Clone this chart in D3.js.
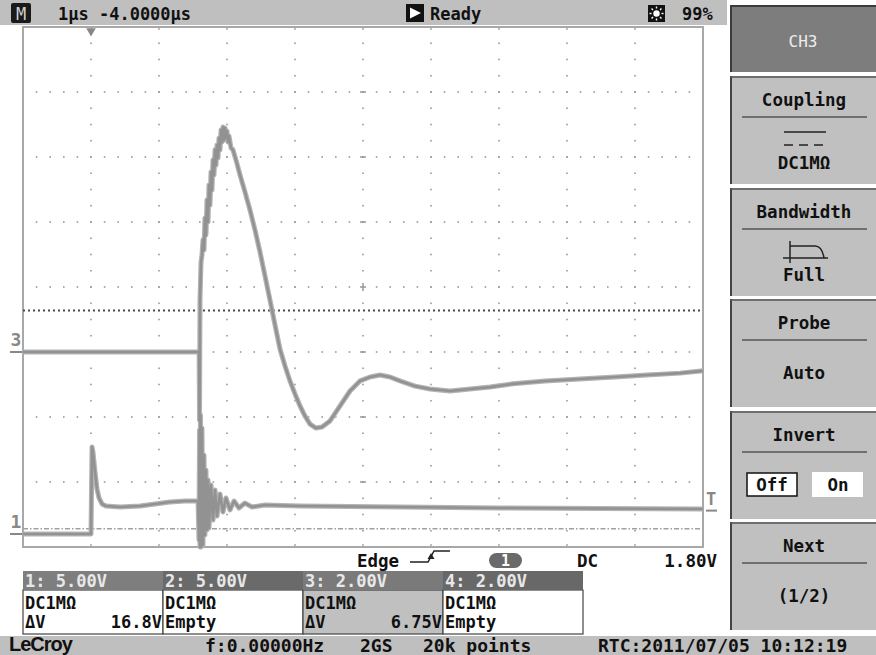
<!DOCTYPE html>
<html>
<head>
<meta charset="utf-8">
<script src="https://cdn.jsdelivr.net/npm/d3@7"></script>
<style>
body { margin: 0; background: #fff; }
svg { display: block; }
text { font-family: "DejaVu Sans Mono", monospace; fill: #111; font-weight: bold; }
</style>
</head>
<body>
<script>
// ---- values ----
// time in us (1 us/div, trigger at t = 0), volts per channel
const ch3Trace = [
  [-1, 0], [1.59, 0], [1.596, -2.1], [1.603, 1.6], [1.618, 2.77], [1.632, 2.98], [1.647, 3.45],
  [1.662, 3.14], [1.676, 4.12], [1.691, 3.6], [1.706, 4.68], [1.721, 4.0], [1.735, 5.14],
  [1.75, 4.52], [1.765, 5.54], [1.779, 4.98], [1.794, 5.91], [1.809, 5.45], [1.824, 6.22],
  [1.838, 5.75], [1.853, 6.37], [1.868, 5.97], [1.882, 6.58], [1.897, 6.22], [1.912, 6.83],
  [1.926, 6.46], [1.941, 6.92], [1.956, 6.52], [1.971, 6.89], [1.985, 6.58], [2.0, 6.8],
  [2.015, 6.46], [2.029, 6.65], [2.059, 6.28], [2.088, 6.22], [2.132, 5.91], [2.191, 5.45],
  [2.265, 4.92], [2.338, 4.37], [2.412, 3.75], [2.485, 3.08], [2.559, 2.34], [2.632, 1.6],
  [2.706, 0.83], [2.779, 0.09], [2.853, -0.43], [2.926, -0.89], [3.0, -1.29], [3.074, -1.66],
  [3.147, -1.97], [3.221, -2.22], [3.309, -2.34], [3.397, -2.31], [3.515, -2.12], [3.662, -1.66],
  [3.809, -1.2], [3.956, -0.89], [4.103, -0.77], [4.25, -0.71], [4.397, -0.77], [4.544, -0.89],
  [4.765, -1.05], [4.985, -1.14], [5.279, -1.2], [5.574, -1.14], [5.868, -1.08], [6.206, -0.98],
  [6.676, -0.89], [7.191, -0.83], [7.706, -0.77], [8.176, -0.71], [8.662, -0.65], [9.0, -0.58]
]

const ch1Trace = [
  [-1, 0], [0, 0], [0.015, 6.69], [0.029, 6.31], [0.059, 4.77], [0.088, 3.46], [0.118, 2.77],
  [0.162, 2.31], [0.221, 2.15], [0.426, 2.08], [0.721, 2.15], [0.941, 2.31], [1.162, 2.46],
  [1.382, 2.54], [1.574, 2.54], [1.588, -0.46], [1.596, 8.0], [1.603, -1.0], [1.61, 9.15],
  [1.618, -1.0], [1.632, 8.15], [1.647, -0.85], [1.662, 6.08], [1.676, -0.08], [1.691, 4.92],
  [1.706, 0.31], [1.721, 4.15], [1.735, 0.46], [1.765, 3.77], [1.794, 1.08], [1.824, 3.38],
  [1.853, 1.38], [1.897, 3.08], [1.941, 1.69], [1.985, 2.77], [2.044, 1.85], [2.103, 2.54],
  [2.176, 2.0], [2.265, 2.38], [2.368, 2.08], [2.559, 2.23], [3.074, 2.15], [4.544, 2.08],
  [6.015, 2.0], [7.485, 1.96], [9.0, 1.92]
]

const timeDivs = [0, 1, 2, 3, 4, 5, 6, 7, 8]      // interior vertical grid lines (us)
const voltDivs = [-3, -2, -1, 0, 1, 2, 3]         // interior horizontal grid lines (div)
const triggerLevel = 1.8                           // V on CH1
const cursorLevels = [17.2, 0.4]                   // V on CH1, dV = 16.8 V

const topTimebase = "1\u00b5s -4.0000\u00b5s"
const topStatus = "Ready"
const topBright = "99%"

const menuTitles = ["Coupling", "Bandwidth", "Probe", "Invert", "Next"]
const menuValues = ["DC1M\u03a9", "Full", "Auto", "", "(1/2)"]

const chanHeaders = ["1: 5.00V", "2: 5.00V", "3: 2.00V", "4: 2.00V"]
const chanCoupling = ["DC1M\u03a9", "DC1M\u03a9", "DC1M\u03a9", "DC1M\u03a9"]
const chanMeasure = [["\u0394V", "16.8V"], ["Empty", ""], ["\u0394V", "6.75V"], ["Empty", ""]]

const trigText = ["Edge", "DC", "1.80V"]
const statusText = ["f:0.00000Hz", "2GS", "20k points", "RTC:2011/07/05 10:12:19"]

// ---- layout ----
const width = 876, height = 655
const svg = d3.select("body").append("svg").attr("width", width).attr("height", height)

const x = d3.scaleLinear().domain([-1, 9]).range([23, 703])
const yDiv = d3.scaleLinear().domain([-4, 4]).range([547, 27])
const y3 = d3.scaleLinear().domain([-6, 10]).range([547, 27])   // 2 V/div, gnd 1 div below centre
const y1 = d3.scaleLinear().domain([-1, 39]).range([547, 27])   // 5 V/div

// top status bar
svg.append("rect").attr("x", 0).attr("y", 0).attr("width", 727).attr("height", 25).attr("fill", "#bfbfbf")
svg.append("rect").attr("x", 11).attr("y", 3).attr("width", 20).attr("height", 20).attr("rx", 2).attr("fill", "#1a1a1a")
svg.append("text").attr("x", 21).attr("y", 20).attr("text-anchor", "middle").attr("font-size", 17)
  .style("fill", "#cfcfcf").style("font-weight", "normal").text("M")
svg.append("text").attr("x", 58).attr("y", 20).attr("font-size", 17).text(topTimebase)
svg.append("rect").attr("x", 406).attr("y", 4).attr("width", 18).attr("height", 18).attr("fill", "#111")
svg.append("path").attr("d", "M410,7.5 L410,18.5 L421,13 Z").attr("fill", "#fff")
svg.append("text").attr("x", 430).attr("y", 20).attr("font-size", 17).text(topStatus)
// brightness icon
svg.append("rect").attr("x", 648).attr("y", 5).attr("width", 17).attr("height", 17).attr("fill", "#111")
svg.append("circle").attr("cx", 656.5).attr("cy", 13.5).attr("r", 3.2).attr("fill", "#fff")
d3.range(8).forEach(function (k) {
  const a = k * Math.PI / 4
  svg.append("line")
    .attr("x1", 656.5 + Math.cos(a) * 5).attr("y1", 13.5 + Math.sin(a) * 5)
    .attr("x2", 656.5 + Math.cos(a) * 7).attr("y2", 13.5 + Math.sin(a) * 7)
    .attr("stroke", "#fff").attr("stroke-width", 1.4)
})
svg.append("text").attr("x", 682).attr("y", 20).attr("font-size", 17).text(topBright)

// right soft-key panel
svg.append("rect").attr("x", 730).attr("y", 5).attr("width", 146).attr("height", 67).attr("fill", "#7d7d7d")
svg.append("line").attr("x1", 731).attr("x2", 731).attr("y1", 5).attr("y2", 72).attr("stroke", "#3c3c3c").attr("stroke-width", 2)
svg.append("line").attr("x1", 730).attr("x2", 876).attr("y1", 6).attr("y2", 6).attr("stroke", "#3c3c3c").attr("stroke-width", 2)
svg.append("text").attr("x", 803).attr("y", 47).attr("text-anchor", "middle").attr("font-size", 16)
  .style("fill", "#eeeeee").style("font-weight", "normal").text("CH3")

const menuTop = [76, 188, 299, 411, 522]
menuTitles.forEach(function (t, i) {
  const top = menuTop[i]
  const g = svg.append("g")
  g.append("rect").attr("x", 730).attr("y", top).attr("width", 146).attr("height", 108).attr("fill", "#c0c0c0")
  g.append("line").attr("x1", 731).attr("x2", 731).attr("y1", top).attr("y2", top + 108).attr("stroke", "#444").attr("stroke-width", 2)
  g.append("line").attr("x1", 730).attr("x2", 876).attr("y1", top + 1).attr("y2", top + 1).attr("stroke", "#555").attr("stroke-width", 1.5)
  g.append("text").attr("x", 804).attr("y", top + 30).attr("text-anchor", "middle").attr("font-size", 17.5).text(t)
  g.append("line").attr("x1", 742).attr("x2", 867).attr("y1", top + 41).attr("y2", top + 41).attr("stroke", "#555").attr("stroke-width", 1.5)
  const vy = (i < 2) ? top + 93 : top + 80
  if (menuValues[i]) {
    g.append("text").attr("x", 804).attr("y", vy).attr("text-anchor", "middle").attr("font-size", 17.5).text(menuValues[i])
  }
})
// coupling symbol
svg.append("line").attr("x1", 784).attr("x2", 826).attr("y1", 132).attr("y2", 132).attr("stroke", "#222").attr("stroke-width", 1.5)
svg.append("line").attr("x1", 784).attr("x2", 826).attr("y1", 145).attr("y2", 145).attr("stroke", "#222").attr("stroke-width", 1.5)
  .attr("stroke-dasharray", "9,6")
// bandwidth symbol
svg.append("path").attr("d", "M790,241 V263 M783,258 H828 M790,246 H815 Q822,246 824,258")
  .attr("fill", "none").attr("stroke", "#222").attr("stroke-width", 1.5)
// invert off/on
svg.append("rect").attr("x", 747).attr("y", 473).attr("width", 50).attr("height", 23).attr("fill", "#fff").attr("stroke", "#111").attr("stroke-width", 1.5)
svg.append("rect").attr("x", 812).attr("y", 472).attr("width", 51).attr("height", 25).attr("fill", "#fff")
svg.append("text").attr("x", 772).attr("y", 491).attr("text-anchor", "middle").attr("font-size", 17.5).text("Off")
svg.append("text").attr("x", 838).attr("y", 491).attr("text-anchor", "middle").attr("font-size", 17.5).text("On")

// grid
const grid = svg.append("g")
const quarter = d3.range(-4, 4.001, 0.25).slice(1, -1)
const fifth = d3.range(-1, 9.001, 0.2).slice(1, -1)
grid.selectAll("rect.vd").data(d3.cross(timeDivs, quarter)).join("rect")
  .attr("x", d => x(d[0]) - 0.8).attr("y", d => yDiv(d[1]) - 0.8)
  .attr("width", 1.6).attr("height", 1.6).attr("fill", "#9a9a9a")
grid.selectAll("rect.hd").data(d3.cross(voltDivs, fifth)).join("rect")
  .attr("x", d => x(d[1]) - 0.8).attr("y", d => yDiv(d[0]) - 0.8)
  .attr("width", 1.6).attr("height", 1.6).attr("fill", "#9a9a9a")
// centre axis ticks
grid.selectAll("line.ct").data(voltDivs).join("line")
  .attr("x1", x(4) - 3).attr("x2", x(4) + 3).attr("y1", d => yDiv(d)).attr("y2", d => yDiv(d))
  .attr("stroke", "#9a9a9a").attr("stroke-width", 1.5)
grid.append("line").attr("x1", x(4)).attr("x2", x(4)).attr("y1", yDiv(0) - 4).attr("y2", yDiv(0) + 4)
  .attr("stroke", "#9a9a9a").attr("stroke-width", 1.5)
// frame
svg.append("rect").attr("x", x(-1)).attr("y", yDiv(4)).attr("width", x(9) - x(-1)).attr("height", yDiv(-4) - yDiv(4))
  .attr("fill", "none").attr("stroke", "#a8a8a8").attr("stroke-width", 2)
grid.selectAll("line.tt").data(timeDivs).join("line")
  .attr("x1", d => x(d)).attr("x2", d => x(d)).attr("y1", yDiv(4)).attr("y2", yDiv(4) + 3)
  .attr("stroke", "#a8a8a8").attr("stroke-width", 1.5)
grid.selectAll("line.bt").data(timeDivs).join("line")
  .attr("x1", d => x(d)).attr("x2", d => x(d)).attr("y1", yDiv(-4)).attr("y2", yDiv(-4) - 3)
  .attr("stroke", "#a8a8a8").attr("stroke-width", 1.5)

// cursors
svg.append("line").attr("x1", x(-1)).attr("x2", x(9)).attr("y1", y1(cursorLevels[0])).attr("y2", y1(cursorLevels[0]))
  .attr("stroke", "#4a4a4a").attr("stroke-width", 2).attr("stroke-dasharray", "2,3")
svg.append("line").attr("x1", x(-1)).attr("x2", x(9)).attr("y1", y1(cursorLevels[1])).attr("y2", y1(cursorLevels[1]))
  .attr("stroke", "#a0a0a0").attr("stroke-width", 1.5).attr("stroke-dasharray", "5,2,1.5,2")

// traces: soft noise band under a darker core
const line3 = d3.line().x(d => x(d[0])).y(d => y3(d[1]))
const line1 = d3.line().x(d => x(d[0])).y(d => y1(d[1]))
const traces = [line3(ch3Trace), line1(ch1Trace)]
traces.forEach(function (d) {
  svg.append("path").attr("d", d).attr("fill", "none").attr("stroke", "#b4b4b4")
    .attr("stroke-width", 5).attr("stroke-linejoin", "round")
})
traces.forEach(function (d) {
  svg.append("path").attr("d", d).attr("fill", "none").attr("stroke", "#929292")
    .attr("stroke-width", 2.6).attr("stroke-linejoin", "round")
})

// markers
svg.append("path").attr("d", d3.symbol(d3.symbolTriangle, 40)()).attr("fill", "#888")
  .attr("transform", "translate(" + x(0) + "," + (yDiv(4) + 4) + ") rotate(180)")
svg.append("text").attr("x", 16).attr("y", y3(0) - 6).attr("text-anchor", "middle").attr("font-size", 18)
  .style("fill", "#888").text("3")
svg.append("line").attr("x1", 10).attr("x2", 22).attr("y1", y3(0)).attr("y2", y3(0)).attr("stroke", "#888").attr("stroke-width", 2)
svg.append("text").attr("x", 16).attr("y", y1(0) - 6).attr("text-anchor", "middle").attr("font-size", 18)
  .style("fill", "#888").text("1")
svg.append("line").attr("x1", 10).attr("x2", 22).attr("y1", y1(0)).attr("y2", y1(0)).attr("stroke", "#888").attr("stroke-width", 2)
svg.append("text").attr("x", 711).attr("y", y1(triggerLevel) - 6).attr("text-anchor", "middle").attr("font-size", 17)
  .style("fill", "#888").text("T")
svg.append("line").attr("x1", 706).attr("x2", 717).attr("y1", y1(triggerLevel)).attr("y2", y1(triggerLevel))
  .attr("stroke", "#888").attr("stroke-width", 2)

// trigger info line
svg.append("text").attr("x", 357).attr("y", 567).attr("font-size", 17.5).text(trigText[0])
svg.append("path").attr("d", "M410,562 H428 L434,551 H450").attr("fill", "none").attr("stroke", "#222").attr("stroke-width", 1.5)
svg.append("path").attr("d", "M431,553 L427.5,559 L434.5,559 Z").attr("fill", "#222")
svg.append("rect").attr("x", 489).attr("y", 553).attr("width", 33).attr("height", 15).attr("rx", 7.5).attr("fill", "#6a6a6a")
svg.append("text").attr("x", 505.5).attr("y", 566).attr("text-anchor", "middle").attr("font-size", 15).style("fill", "#fff").text("1")
svg.append("text").attr("x", 577).attr("y", 567).attr("font-size", 17.5).text(trigText[1])
svg.append("text").attr("x", 717).attr("y", 567).attr("text-anchor", "end").attr("font-size", 17.5).text(trigText[2])

// channel boxes
const headFill = ["#7e7e7e", "#6a6a6a", "#7a7a7a", "#686868"]
chanHeaders.forEach(function (h, i) {
  const bx = 23 + i * 140
  const g = svg.append("g")
  g.append("rect").attr("x", bx).attr("y", 590).attr("width", 140).attr("height", 44)
    .attr("fill", i === 2 ? "#c0c0c0" : "#fff").attr("stroke", "#444").attr("stroke-width", 1.2)
  g.append("rect").attr("x", bx).attr("y", 571).attr("width", 140).attr("height", 19).attr("fill", headFill[i])
  g.append("text").attr("x", bx + 2).attr("y", 587).attr("font-size", 17).style("fill", "#e8e8e8").text(h)
  g.append("text").attr("x", bx + 2).attr("y", 609).attr("font-size", 17).text(chanCoupling[i])
  g.append("text").attr("x", bx + 2).attr("y", 628).attr("font-size", 17).text(chanMeasure[i][0])
  if (chanMeasure[i][1]) {
    g.append("text").attr("x", bx + 139).attr("y", 628).attr("text-anchor", "end").attr("font-size", 17).text(chanMeasure[i][1])
  }
})

// bottom status bar
svg.append("rect").attr("x", 0).attr("y", 636).attr("width", width).attr("height", 19).attr("fill", "#bfbfbf")
svg.append("text").attr("x", 9).attr("y", 651).attr("font-size", 20)
  .style("font-family", "'Liberation Sans', Arial, sans-serif").attr("letter-spacing", -1).text("LeCroy")
const statusX = [205, 360, 423, 598]
statusText.forEach(function (s, i) {
  svg.append("text").attr("x", statusX[i]).attr("y", 652).attr("font-size", 18).text(s)
})
</script>
</body>
</html>
